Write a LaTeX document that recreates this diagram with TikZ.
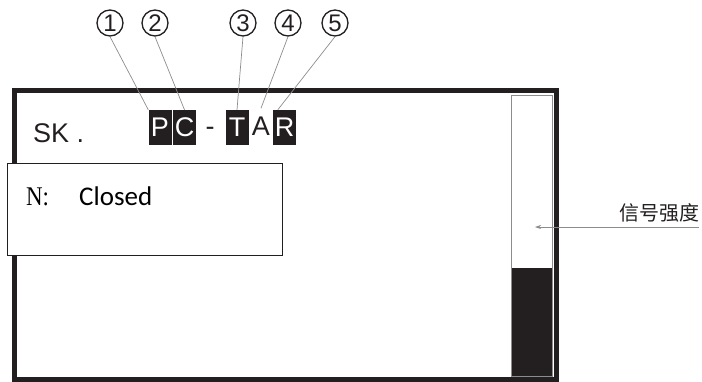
\documentclass[tikz,border=0pt]{standalone}
\usepackage{fontspec}
\setmainfont{Liberation Sans}
\newfontfamily\calibri{Carlito}
\newfontfamily\timesfont{Liberation Serif}
\newfontfamily\cjk{Noto Sans CJK SC}
\usetikzlibrary{arrows.meta}
\definecolor{ink}{HTML}{231F20}
\definecolor{leadgray}{HTML}{8C8C8C}

\begin{document}
\begin{tikzpicture}[
  x=1pt, y=-1pt,
  every node/.style={inner sep=0pt},
  frame/.style={draw=ink, line width=5pt},
  keybox/.style={fill=ink, text=white, minimum width=23pt, minimum height=35pt,
                 font=\fontsize{27}{27}\selectfont},
  plain/.style={text=ink, font=\fontsize{27}{27}\selectfont},
  num/.style={circle, draw=ink, line width=1.3pt, minimum size=26pt,
              text=ink, font=\fontsize{24}{24}\selectfont},
  leader/.style={draw=leadgray, line width=0.7pt},
]
%% page is 702 x 381, one unit per pixel of the panel photo
\useasboundingbox (0,0) rectangle (702,381);

%% ---- panel frame and signal bar ----
\draw[frame] (14.5,90) rectangle (556,379);
\fill[white] (511,95) rectangle (552,268);
\fill[ink] (511,268) rectangle (552,376);
\draw[leadgray, line width=1pt] (511,95) rectangle (552,376);

%% ---- top line of the display ----
\node[plain, anchor=base west] (sk) at (33,142) {SK .};
\node[keybox] (P) at (160,127.5) {P};
\node[keybox] (C) at (184.5,127.5) {C};
\node[plain, anchor=base] (dash) at (210,135) {-};
\node[keybox] (T) at (237,127.5) {T};
\node[plain, anchor=base] (A) at (261,135) {A};
\node[keybox] (R) at (284.5,127.5) {R};

%% ---- callout numbers ----
\node[num] (n1) at (110,23) {1};
\node[num] (n2) at (155,23) {2};
\node[num] (n3) at (243,23) {3};
\node[num] (n4) at (288,23) {4};
\node[num] (n5) at (335,23) {5};

\draw[leader] (n1.south) -- (P.north west);
\draw[leader] (n2.south) -- (C.north);
\draw[leader] (n3.south) -- (T.north);
\draw[leader] (n4.south) -- ([yshift=8pt]A.north);
\draw[leader] (n5.south) -- ([xshift=5pt]R.north west);

%% ---- status box ----
\node[draw=ink, line width=1.2pt, fill=white, minimum width=275pt,
      minimum height=92pt, anchor=north west] (info) at (7,163) {};
\node[anchor=base west, xscale=0.85, font=\timesfont\fontsize{27}{27}\selectfont] (nlab) at (26,205) {N:};
\node[anchor=base west, font=\calibri\fontsize{27}{27}\selectfont] (state) at (79,205) {Closed};

%% ---- signal strength pointer ----
\coordinate (sigend) at (699,227);
\coordinate (bartip) at (535,227);
\draw[leader, -{Stealth[length=6pt, width=4pt]}] (sigend) -- (bartip);
\node[anchor=base east, text=ink, font=\cjk\fontsize{20}{20}\selectfont] (siglab) at (700,220) {信号强度};
\end{tikzpicture}
\end{document}
